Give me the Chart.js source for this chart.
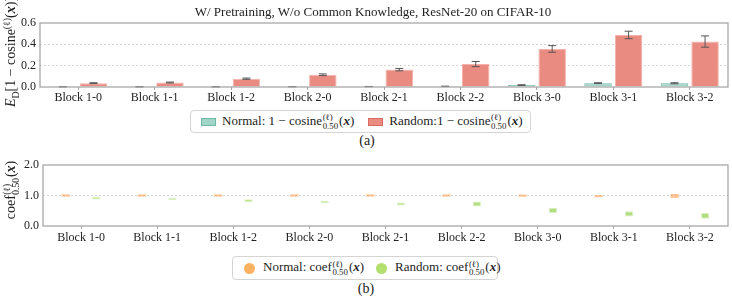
<!DOCTYPE html>
<html>
<head>
<meta charset="utf-8">
<script src="https://cdn.jsdelivr.net/npm/chart.js@4/dist/chart.umd.min.js"></script>
<style>
  html, body { margin: 0; padding: 0; background: #fff; }
  #wrap { position: relative; width: 732px; height: 301px; overflow: hidden; font-family: "Liberation Serif", serif; color: #222; }
  canvas { position: absolute; left: 0; }
  .abs { position: absolute; white-space: nowrap; }
  .ss { display: inline-block; font-size: 0.68em; line-height: 0.95; vertical-align: -0.42em; margin: 0 1px 0 0.5px; text-align: left; }
  .ss > span { display: block; }
  .sup1 { font-size: 0.7em; vertical-align: 0.55em; }
  .legend { position: absolute; border: 1px solid #d4d4d4; border-radius: 4px; box-sizing: border-box; display: flex; align-items: center; font-size: 13px; background: #fff; white-space: nowrap; }
  .sw { display: inline-block; flex: 0 0 auto; width: 15px; height: 8px; margin-right: 6px; box-sizing: border-box; }
  .dot { display: inline-block; flex: 0 0 auto; width: 11px; height: 11px; border-radius: 50%; margin-right: 8px; }
  .rot { transform: translate(-50%, -50%) rotate(-90deg); font-size: 14px; }
</style>
</head>
<body>
<div id="wrap">
  <canvas id="c1" width="732" height="105" style="top:0"></canvas>
  <canvas id="c2" width="732" height="95" style="top:150px"></canvas>

  <div class="abs" style="left:373px; top:12px; transform:translate(-50%,-50%); font-size:13px;">W/ Pretraining, W/o Common Knowledge, ResNet-20 on CIFAR-10</div>

  <div class="abs rot" style="left:11px; top:52px;"><i>E</i><sub style="font-size:0.7em">D</sub>[1 − cosine<span class="sup1">(ℓ)</span>(<b><i>x</i></b>)]</div>
  <div class="abs rot" style="left:12px; top:190px;">coef<span class="ss"><span>(ℓ)</span><span>0.50</span></span>(<b><i>x</i></b>)</div>

  <div class="legend" style="left:190px; top:110px; width:341px; height:23px; padding-left:10px;">
    <span class="sw" style="background:#a0d5c7;border:1px solid #6fb9a5;"></span>
    <span>Normal: 1 − cosine<span class="ss"><span>(ℓ)</span><span>0.50</span></span>(<b><i>x</i></b>)</span>
    <span class="sw" style="background:#ea8b82;border:1px solid #d8685e;margin-left:14px;"></span>
    <span>Random:1 − cosine<span class="ss"><span>(ℓ)</span><span>0.50</span></span>(<b><i>x</i></b>)</span>
  </div>
  <div class="abs" style="left:367px; top:141px; transform:translate(-50%,-50%); font-size:14px;">(a)</div>

  <div class="legend" style="left:232px; top:256px; width:266px; height:24px; padding-left:11px;">
    <span class="dot" style="background:#fdb163;"></span>
    <span>Normal: coef<span class="ss"><span>(ℓ)</span><span>0.50</span></span>(<b><i>x</i></b>)</span>
    <span class="dot" style="background:#b3df6f;margin-left:12px;"></span>
    <span>Random: coef<span class="ss"><span>(ℓ)</span><span>0.50</span></span>(<b><i>x</i></b>)</span>
  </div>
  <div class="abs" style="left:366px; top:289px; transform:translate(-50%,-50%); font-size:14px;">(b)</div>
</div>

<script>
// ---- data ----
const categories = ['Block 1-0','Block 1-1','Block 1-2','Block 2-0','Block 2-1','Block 2-2','Block 3-0','Block 3-1','Block 3-2'];
const normalMean = [0.002, 0.002, 0.002, 0.003, 0.004, 0.006, 0.018, 0.036, 0.035];
const normalErr  = [0.001, 0.001, 0.001, 0.001, 0.001, 0.002, 0.003, 0.004, 0.005];
const randomMean = [0.036, 0.042, 0.078, 0.115, 0.163, 0.215, 0.357, 0.488, 0.426];
const randomErr  = [0.004, 0.004, 0.006, 0.008, 0.011, 0.024, 0.031, 0.035, 0.053];
const normalCoefLow  = [0.965, 0.965, 0.965, 0.965, 0.965, 0.965, 0.960, 0.945, 0.920];
const normalCoefHigh = [1.035, 1.035, 1.035, 1.035, 1.035, 1.035, 1.030, 1.010, 1.050];
const randomCoefLow  = [0.87, 0.85, 0.78, 0.75, 0.67, 0.64, 0.43, 0.31, 0.24];
const randomCoefHigh = [0.95, 0.93, 0.88, 0.83, 0.77, 0.80, 0.60, 0.48, 0.43];
const topTicks = [0, 0.2, 0.4, 0.6];
const bottomTicks = [0, 0.5, 1.0, 1.5, 2.0];

const FONT = { family: '"Liberation Serif", serif', size: 12 };
const AXIS = '#a8a8a8';

const frame = {
  id: 'frame',
  afterDraw(chart) {
    const a = chart.chartArea, c = chart.ctx;
    c.save();
    c.strokeStyle = AXIS; c.lineWidth = 1.3;
    c.strokeRect(a.left, a.top, a.right - a.left, a.bottom - a.top);
    c.restore();
  }
};

const errorBars = {
  id: 'errorBars',
  afterDatasetsDraw(chart) {
    const c = chart.ctx, y = chart.scales.y;
    const errs = [normalErr, randomErr];
    const means = [normalMean, randomMean];
    c.save();
    c.strokeStyle = '#555'; c.lineWidth = 1;
    chart.data.datasets.forEach((ds, di) => {
      const meta = chart.getDatasetMeta(di);
      meta.data.forEach((bar, i) => {
        const x = bar.x;
        const yt = y.getPixelForValue(means[di][i] + errs[di][i]);
        const yb = y.getPixelForValue(means[di][i] - errs[di][i]);
        c.beginPath();
        c.moveTo(x, yt); c.lineTo(x, yb);
        c.moveTo(x - 4, yt); c.lineTo(x + 4, yt);
        c.moveTo(x - 4, yb); c.lineTo(x + 4, yb);
        c.stroke();
      });
    });
    c.restore();
  }
};

function gridColor(maxV) {
  return (ctx) => (ctx.tick && (ctx.tick.value === 0 || Math.abs(ctx.tick.value - maxV) < 1e-9)) ? 'rgba(0,0,0,0)' : '#d6d6d6';
}

new Chart(document.getElementById('c1'), {
  type: 'bar',
  data: {
    labels: categories,
    datasets: [
      { label: 'Normal', data: normalMean, backgroundColor: '#a0d5c7', borderColor: '#70baa6', borderWidth: 1, categoryPercentage: 0.8, barPercentage: 0.9 },
      { label: 'Random', data: randomMean, backgroundColor: '#ea8b82', borderColor: '#f3b3ab', borderWidth: 1, categoryPercentage: 0.8, barPercentage: 0.9 }
    ]
  },
  options: {
    responsive: false, animation: false, devicePixelRatio: 1,
    layout: { padding: { top: 23, right: 4, left: 0, bottom: 0 } },
    plugins: { legend: { display: false }, tooltip: { enabled: false } },
    scales: {
      x: {
        afterFit(s) { s.height = 18; },
        grid: { offset: false, drawOnChartArea: false, drawTicks: true, tickLength: 3, color: AXIS },
        border: { display: false },
        ticks: { font: FONT, color: '#222', padding: 1, maxRotation: 0, autoSkip: false }
      },
      y: {
        min: 0, max: 0.6,
        afterFit(s) { s.width = 40; },
        afterBuildTicks(s) { s.ticks = topTicks.map(v => ({ value: v })); },
        grid: { color: gridColor(0.6), drawTicks: false, lineWidth: 1 },
        border: { display: false, dash: [2, 2] },
        ticks: { font: FONT, color: '#222', padding: 4, callback: v => v.toFixed(1) }
      }
    }
  },
  plugins: [errorBars, frame]
});

new Chart(document.getElementById('c2'), {
  type: 'bar',
  data: {
    labels: categories,
    datasets: [
      { label: 'Normal', data: normalCoefLow.map((v, i) => [v, normalCoefHigh[i]]), backgroundColor: 'rgba(253,165,90,0.65)', borderWidth: 0, categoryPercentage: 0.8, barPercentage: 0.27 },
      { label: 'Random', data: randomCoefLow.map((v, i) => [v, randomCoefHigh[i]]), backgroundColor: 'rgba(160,214,95,0.8)', borderColor: 'rgba(195,230,155,0.6)', borderWidth: 1, borderSkipped: false, categoryPercentage: 0.8, barPercentage: 0.27 }
    ]
  },
  options: {
    responsive: false, animation: false, devicePixelRatio: 1,
    layout: { padding: { top: 15, right: 4, left: 0, bottom: 0 } },
    plugins: { legend: { display: false }, tooltip: { enabled: false } },
    scales: {
      x: {
        afterFit(s) { s.height = 19; },
        grid: { offset: false, drawOnChartArea: false, drawTicks: true, tickLength: 3, color: AXIS },
        border: { display: false },
        ticks: { font: FONT, color: '#222', padding: 2, maxRotation: 0, autoSkip: false }
      },
      y: {
        min: 0, max: 2.0,
        afterFit(s) { s.width = 43; },
        afterBuildTicks(s) { s.ticks = bottomTicks.map(v => ({ value: v })); },
        grid: { color: gridColor(2.0), drawTicks: false, lineWidth: 1 },
        border: { display: false, dash: [2, 2] },
        ticks: { font: FONT, color: '#222', padding: 4, callback: v => v.toFixed(1) }
      }
    }
  },
  plugins: [frame]
});
</script>
</body>
</html>
